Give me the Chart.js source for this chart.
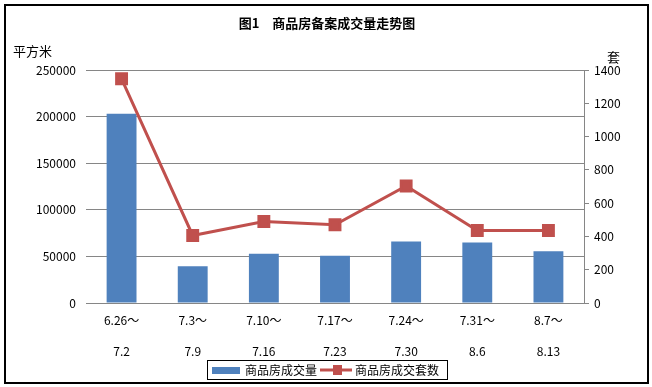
<!DOCTYPE html>
<html>
<head>
<meta charset="utf-8">
<script src="https://cdn.jsdelivr.net/npm/chart.js@4"></script>
<style>
  html, body { margin: 0; padding: 0; background: #fff; }
  #wrap { position: relative; width: 652px; height: 387px; }
  #frame { position: absolute; left: 4px; top: 4px; width: 641px; height: 376px; border: 2px solid #000; pointer-events: none; }
  canvas { position: absolute; left: 0; top: 0; }
</style>
</head>
<body>
<div id="wrap">
  <canvas id="chart" width="652" height="387"></canvas>
  <div id="frame"></div>
</div>
<script>
// 周期（两行标签）
const periods = [
  ['6.26～', '7.2'],
  ['7.3～', '7.9'],
  ['7.10～', '7.16'],
  ['7.17～', '7.23'],
  ['7.24～', '7.30'],
  ['7.31～', '8.6'],
  ['8.7～', '8.13']
];
const areaValues = [203000, 39300, 52900, 50700, 66100, 65000, 55400]; // 平方米
const unitValues = [1347, 406, 490, 470, 703, 436, 436];               // 套
const areaTicks = [0, 50000, 100000, 150000, 200000, 250000];
const unitTicks = [0, 200, 400, 600, 800, 1000, 1200, 1400];

const barColor = '#4F81BD';
const lineColor = '#C0504D';
const gridColor = '#868686';
const fontFamily = '"Noto Sans CJK SC", "DejaVu Sans", sans-serif';

Chart.defaults.color = '#000';
Chart.defaults.font.family = fontFamily;
Chart.defaults.font.size = 12;

// 图例图标
function makeBarIcon() {
  const c = document.createElement('canvas');
  c.width = 30; c.height = 8;
  const g = c.getContext('2d');
  g.fillStyle = barColor;
  g.fillRect(1, 1, 28, 7);
  return c;
}
function makeLineIcon() {
  const c = document.createElement('canvas');
  c.width = 32; c.height = 10;
  const g = c.getContext('2d');
  g.strokeStyle = lineColor;
  g.lineWidth = 3;
  g.beginPath(); g.moveTo(0, 5); g.lineTo(32, 5); g.stroke();
  g.fillStyle = lineColor;
  g.fillRect(13, 0, 9, 10);
  return c;
}
const legendIcons = [makeBarIcon(), makeLineIcon()];

// 标题、轴标题和图例边框
const decorPlugin = {
  id: 'decor',
  afterDraw(chart) {
    const ctx = chart.ctx;
    ctx.save();
    ctx.fillStyle = '#000';
    ctx.textBaseline = 'middle';
    ctx.font = 'bold 13px ' + fontFamily;
    ctx.textAlign = 'center';
    ctx.fillText('图1　商品房备案成交量走势图', 327, 23);
    ctx.font = '13px ' + fontFamily;
    ctx.textAlign = 'left';
    ctx.fillText('平方米', 13, 51);
    ctx.fillText('套', 607, 57);

    const hb = chart.legend.legendHitBoxes;
    if (hb && hb.length) {
      const first = hb[0], last = hb[hb.length - 1];
      const x1 = Math.round(first.left) - 5.5;
      const x2 = Math.round(last.left + last.width) + 8.5;
      const y1 = Math.round(first.top) - 3.5;
      const y2 = Math.round(first.top + first.height) + 3.5;
      ctx.strokeStyle = '#000';
      ctx.lineWidth = 1;
      ctx.strokeRect(x1, y1, x2 - x1, y2 - y1);
    }
    ctx.restore();
  }
};

new Chart(document.getElementById('chart'), {
  data: {
    labels: periods,
    datasets: [
      {
        type: 'bar',
        label: '商品房成交量',
        data: areaValues,
        yAxisID: 'y',
        backgroundColor: barColor,
        barPercentage: 0.42,
        categoryPercentage: 1,
        order: 1
      },
      {
        type: 'line',
        label: '商品房成交套数',
        data: unitValues,
        yAxisID: 'y1',
        borderColor: lineColor,
        backgroundColor: lineColor,
        borderWidth: 3,
        tension: 0,
        pointStyle: 'rect',
        pointRadius: 7,
        pointHoverRadius: 7,
        order: 0
      }
    ]
  },
  options: {
    responsive: false,
    animation: false,
    layout: { padding: { top: 70, bottom: 1, left: 0, right: 0 } },
    plugins: {
      title: { display: false },
      tooltip: { enabled: false },
      legend: {
        position: 'bottom',
        labels: {
          usePointStyle: true,
          pointStyleWidth: 26,
          padding: 6,
          font: { size: 12 },
          sort: (a, b) => a.datasetIndex - b.datasetIndex,
          generateLabels(chart) {
            const items = Chart.defaults.plugins.legend.labels.generateLabels(chart);
            items.forEach(it => { it.pointStyle = legendIcons[it.datasetIndex]; });
            return items;
          }
        }
      }
    },
    scales: {
      x: {
        offset: true,
        grid: { display: false, drawTicks: false },
        border: { display: true, color: gridColor },
        ticks: {
          padding: 1.5,
          maxRotation: 0,
          autoSkip: false,
          font: { size: 12, lineHeight: '31px' }
        },
        afterFit(scale) { scale.height = 55; }
      },
      y: {
        position: 'left',
        min: 0,
        max: 250000,
        afterBuildTicks(scale) { scale.ticks = areaTicks.map(v => ({ value: v })); },
        grid: { color: gridColor, drawTicks: false },
        border: { display: false },
        ticks: { padding: 10, callback: v => String(v) },
        afterFit(scale) { scale.width = 86; }
      },
      y1: {
        position: 'right',
        min: 0,
        max: 1400,
        afterBuildTicks(scale) { scale.ticks = unitTicks.map(v => ({ value: v })); },
        grid: { drawOnChartArea: false, drawTicks: true, tickLength: 5, color: gridColor },
        border: { display: true, color: gridColor },
        ticks: { padding: 5, callback: v => String(v) },
        afterFit(scale) { scale.width = 68; }
      }
    }
  },
  plugins: [decorPlugin]
});
</script>
</body>
</html>
